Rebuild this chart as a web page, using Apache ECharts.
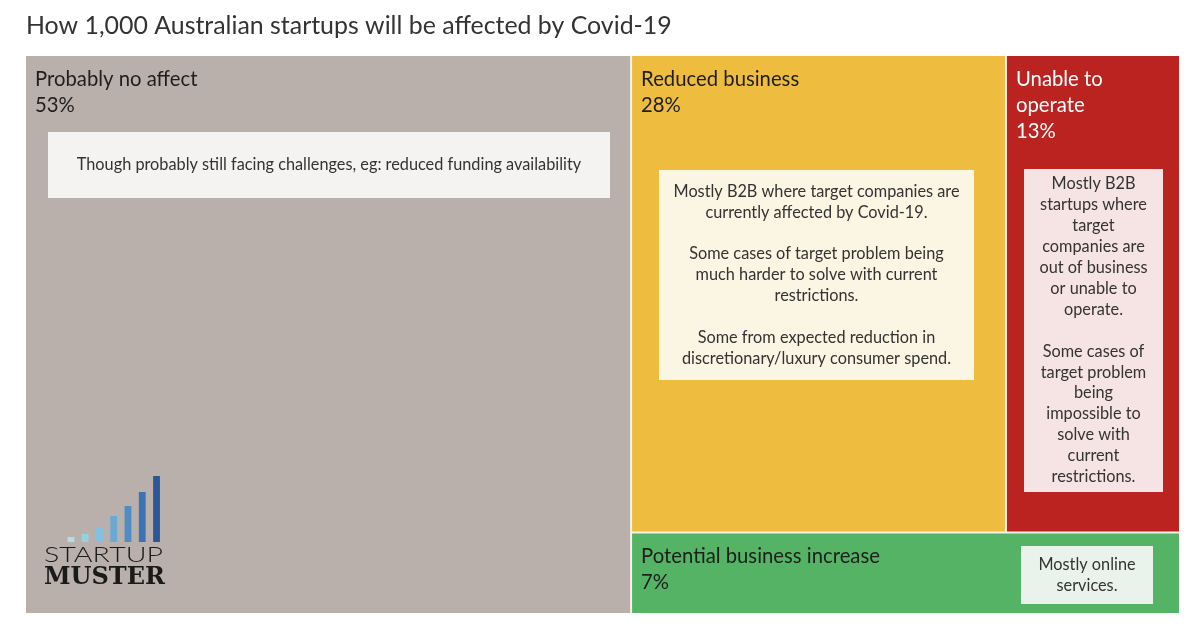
<!DOCTYPE html>
<html>
<head>
<meta charset="utf-8">
<script src="https://cdn.jsdelivr.net/npm/echarts@6/dist/echarts.min.js"></script>
<style>
html,body{margin:0;padding:0;background:#fff;}
#chart{width:1200px;height:627px;}
</style>
</head>
<body>
<div id="chart"></div>
<script>
// ---- Data ----
const titleText = 'How 1,000 Australian startups will be affected by Covid-19';
const categories = ['Probably no affect', 'Reduced business', 'Unable to operate', 'Potential business increase'];
const values = [53, 28, 13, 7];
const colors = ['#b9b0ab', '#eebd3f', '#bb2320', '#54b364'];
const labelColors = ['#1e1e1e', '#1e1e1e', '#ffffff', '#1e1e1e'];
const notes = [
  'Though probably still facing challenges, eg: reduced funding availability',
  'Mostly B2B where target companies are\ncurrently affected by Covid-19.\n\nSome cases of target problem being\nmuch harder to solve with current\nrestrictions.\n\nSome from expected reduction in\ndiscretionary/luxury consumer spend.',
  'Mostly B2B\nstartups where\ntarget\ncompanies are\nout of business\nor unable to\noperate.\n\nSome cases of\ntarget problem\nbeing\nimpossible to\nsolve with\ncurrent\nrestrictions.',
  'Mostly online\nservices.'
];
const noteColors = ['#f4f3f1', '#fbf5e3', '#f6e3e4', '#e9f2eb'];
const logoBars = [1, 2, 3, 4, 5, 6, 7];
const logoBarHeights = [5, 8, 14, 26, 36, 50, 66];
const logoColors = ['#b5dde8', '#98d0e3', '#80c2e3', '#68a9d6', '#4f8dc4', '#3b73b5', '#2b5697'];

// ---- Build tree (Tableau-like nested treemap) ----
function leaf(i, extra) {
  return Object.assign({
    name: categories[i],
    value: values[i],
    itemStyle: { color: colors[i] },
    label: { color: labelColors[i] }
  }, extra || {});
}
const treeData = [
  leaf(0),
  {
    name: 'rest',
    children: [
      { name: 'hit', children: [leaf(1), leaf(2, { label: { color: labelColors[2], width: 110, overflow: 'break' } })] },
      leaf(3)
    ]
  }
];

const FONT = 'Lato, "Open Sans", sans-serif';

// ---- Annotations (layout) ----
const noteBoxes = [
  { x: 48, y: 132, w: 562, h: 66 },
  { x: 659, y: 170, w: 315, h: 210 },
  { x: 1024, y: 169, w: 139, h: 323 },
  { x: 1021, y: 546, w: 132, h: 58 }
];
const graphics = [];
noteBoxes.forEach((b, i) => {
  graphics.push({
    type: 'rect', left: b.x, top: b.y, silent: true,
    shape: { width: b.w, height: b.h },
    style: { fill: noteColors[i] }, z: 100
  });
  graphics.push({
    type: 'text', x: b.x + b.w / 2, y: b.y + b.h / 2, silent: true, z: 101,
    style: {
      text: notes[i], fill: '#333', font: '16.3px ' + FONT,
      align: 'center', verticalAlign: 'middle', lineHeight: 20.9
    }
  });
});
// logo
logoBars.forEach((k, i) => {
  graphics.push({
    type: 'rect', silent: true, z: 100,
    shape: { x: 67.5 + i * 14.27, y: 542 - logoBarHeights[i], width: 6.8, height: logoBarHeights[i] },
    style: { fill: logoColors[i] }
  });
});
graphics.push({
  type: 'text', silent: true, z: 100, x: 44, y: 555, scaleX: 1.3, originX: 0, originY: 0,
  style: { text: 'STARTUP', fill: '#1a1a1a', font: '300 22px ' + FONT, align: 'left', verticalAlign: 'middle' }
});
graphics.push({
  type: 'text', silent: true, z: 100, x: 44, y: 578,
  style: { text: 'MUSTER', fill: '#1a1a1a', font: 'bold 24px "DejaVu Serif", serif', align: 'left', verticalAlign: 'middle' }
});

const chart = echarts.init(document.getElementById('chart'), null, { renderer: 'canvas' });
chart.setOption({
  animation: false,
  backgroundColor: '#ffffff',
  title: {
    text: titleText, left: 21, top: 8,
    textStyle: { fontFamily: FONT, fontSize: 24.9, fontWeight: 'normal', color: '#333333' }
  },
  series: [{
    type: 'treemap',
    left: 26, top: 56, width: 1153, height: 557,
    roam: false, nodeClick: false, silent: true,
    breadcrumb: { show: false },
    sort: 'desc',
    squareRatio: 0.5 * (1 + Math.sqrt(5)),
    itemStyle: { borderWidth: 0, gapWidth: 2, borderColor: '#f6f3ec' },
    levels: [
      { itemStyle: { borderWidth: 0, gapWidth: 2, borderColor: '#f6f3ec' } },
      { itemStyle: { borderWidth: 0, gapWidth: 2, borderColor: '#f6f3ec' } },
      { itemStyle: { borderWidth: 0, gapWidth: 2, borderColor: '#f6f3ec' } }
    ],
    label: {
      show: true, position: 'insideTopLeft', distance: 0,
      padding: [10, 9, 0, 9],
      fontFamily: FONT, fontSize: 20.3, lineHeight: 26,
      formatter: p => p.name + '\n' + p.value + '%'
    },
    upperLabel: { show: false },
    data: treeData
  }],
  graphic: graphics
});
</script>
</body>
</html>
